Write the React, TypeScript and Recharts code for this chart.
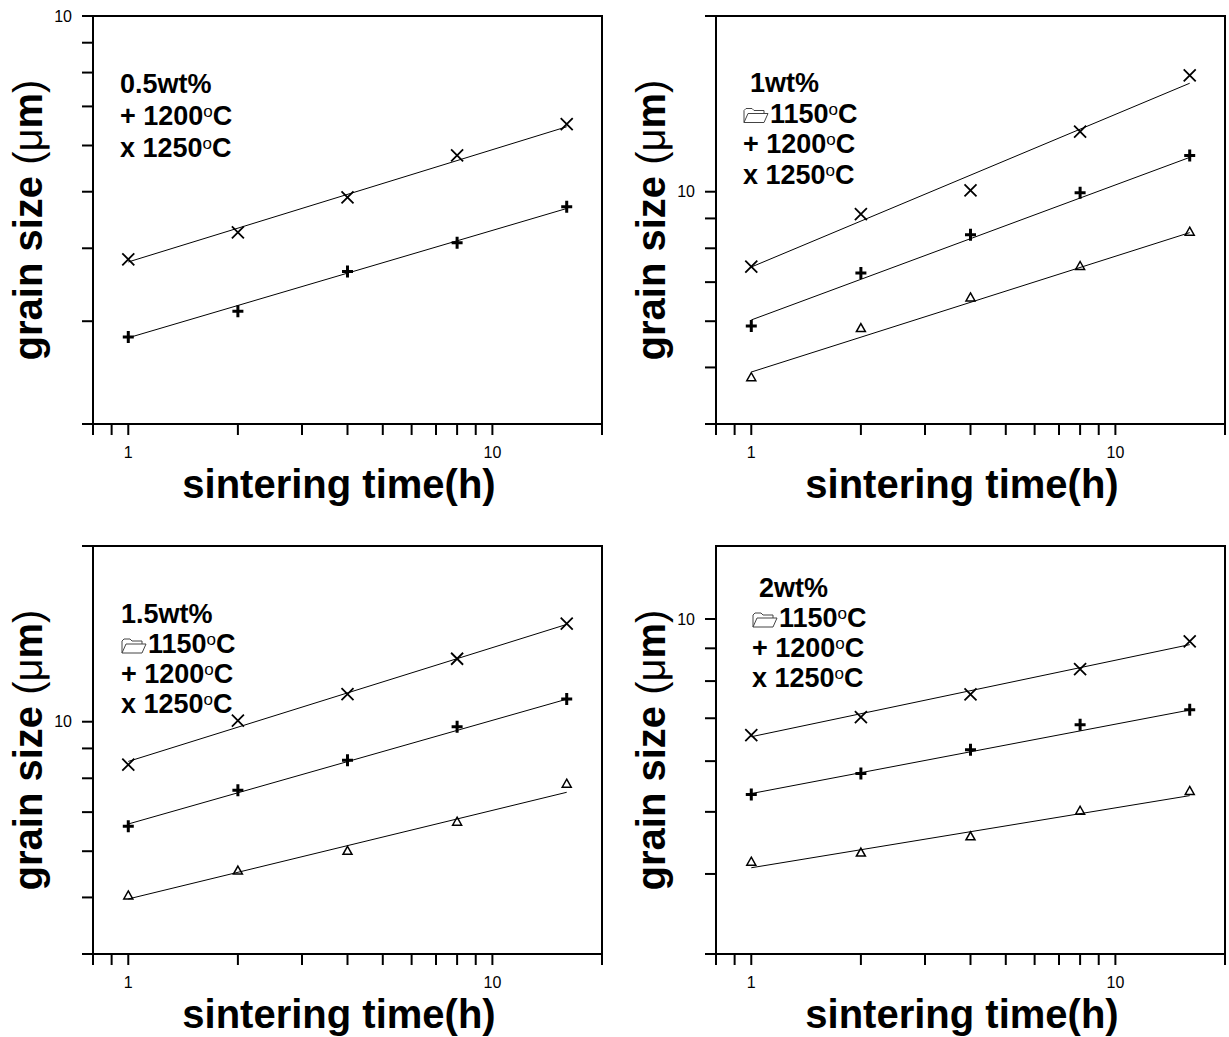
import React from 'react';
import { ScatterChart, Scatter, XAxis, YAxis, ReferenceArea } from 'recharts';

// sintering times (h) and the two ends of each fitted line
const times = [1, 2, 4, 8, 16];
const fitTimes = [1, 16];
const xTicks = [0.8, 0.9, 1, 2, 3, 4, 5, 6, 7, 8, 9, 10, 20];

// 0.5 wt%
const wt05_1200 = [2.82, 3.12, 3.65, 4.09, 4.71];
const wt05_1250 = [3.83, 4.26, 4.89, 5.77, 6.53];
const wt05_fit1200 = [2.81, 4.68];
const wt05_fit1250 = [3.79, 6.46];

// 1 wt%
const wt10_1150 = [4.81, 5.84, 6.59, 7.46, 8.54];
const wt10_1200 = [5.89, 7.26, 8.44, 9.96, 11.54];
const wt10_1250 = [7.44, 9.15, 10.05, 12.67, 15.83];
const wt10_fit1150 = [4.91, 8.51];
const wt10_fit1200 = [6.03, 11.45];
const wt10_fit1250 = [7.43, 15.34];

// 1.5 wt%
const wt15_1150 = [5.04, 5.56, 6.01, 6.74, 7.83];
const wt15_1200 = [6.62, 7.63, 8.59, 9.8, 10.94];
const wt15_1250 = [8.44, 10.04, 11.15, 12.82, 14.73];
const wt15_fit1150 = [4.97, 7.57];
const wt15_fit1200 = [6.68, 10.93];
const wt15_fit1250 = [8.55, 14.68];

// 2 wt%
const wt20_1150 = [4.18, 4.32, 4.58, 5.02, 5.39];
const wt20_1200 = [5.32, 5.74, 6.25, 6.84, 7.22];
const wt20_1250 = [6.59, 7.03, 7.63, 8.35, 9.23];
const wt20_fit1150 = [4.09, 5.3];
const wt20_fit1200 = [5.34, 7.21];
const wt20_fit1250 = [6.55, 9.12];

const yTicksA = [2, 3, 4, 5, 6, 7, 8, 9, 10];
const yTicksB = [4, 5, 6, 7, 8, 9, 10, 20];
const yTicksC = [3, 4, 5, 6, 7, 8, 9, 10];

const font = '"Liberation Sans", Arial, Helvetica, sans-serif';

const toPts = (xs: number[], ys: number[]) => xs.map((x, i) => ({ x, y: ys[i] }));

const Cross = ({ cx, cy }: any) => (
  <path
    d={`M${cx - 6},${cy - 6}L${cx + 6},${cy + 6}M${cx + 6},${cy - 6}L${cx - 6},${cy + 6}`}
    stroke="#000"
    strokeWidth={1.8}
    fill="none"
  />
);

const Plus = ({ cx, cy }: any) => (
  <path d={`M${cx - 5.5},${cy}H${cx + 5.5}M${cx},${cy - 6}V${cy + 6}`} stroke="#000" strokeWidth={3} fill="none" />
);

const Tri = ({ cx, cy }: any) => (
  <path
    d={`M${cx},${cy - 4.5}L${cx + 4.5},${cy + 3.5}L${cx - 4.5},${cy + 3.5}Z`}
    stroke="#000"
    strokeWidth={1.5}
    fill="none"
  />
);

const NoDot = () => <g />;

type Series = { values: number[]; fit: number[]; shape: any };

type PanelProps = {
  left: number;
  top: number;
  width: number;
  height: number;
  marginRight: number;
  marginBottom: number;
  yDomain: [number, number];
  yTicks: number[];
  series: Series[];
};

const axisLine = { stroke: '#000', strokeWidth: 2 };
const tickStyle = { fill: '#000', fontSize: 16, fontFamily: font };

const Panel = ({ left, top, width, height, marginRight, marginBottom, yDomain, yTicks, series }: PanelProps) => (
  <div style={{ position: 'absolute', left, top, width, height }}>
    <ScatterChart width={width} height={height} margin={{ top: 16, right: marginRight, bottom: marginBottom, left: 0 }}>
      <XAxis
        dataKey="x"
        type="number"
        scale="log"
        domain={[0.8, 20]}
        allowDataOverflow
        ticks={xTicks}
        interval={0}
        height={60}
        tickSize={11}
        tickMargin={12}
        axisLine={axisLine}
        tickLine={axisLine}
        tick={tickStyle}
        tickFormatter={(v: number) => (v === 1 || v === 10 ? String(v) : '')}
      />
      <YAxis
        dataKey="y"
        type="number"
        scale="log"
        domain={yDomain}
        allowDataOverflow
        ticks={yTicks}
        interval={0}
        width={93}
        tickSize={11}
        tickMargin={10}
        axisLine={axisLine}
        tickLine={axisLine}
        tick={tickStyle}
        tickFormatter={(v: number) => (v === 10 ? '10' : '')}
      />
      <ReferenceArea
        x1={0.8}
        x2={20}
        y1={yDomain[0]}
        y2={yDomain[1]}
        fill="none"
        fillOpacity={0}
        stroke="#000"
        strokeWidth={2}
        ifOverflow="visible"
      />
      {series.map((s, i) => (
        <Scatter
          key={`fit${i}`}
          data={toPts(fitTimes, s.fit)}
          line={{ stroke: '#000', strokeWidth: 1 }}
          shape={NoDot}
          isAnimationActive={false}
        />
      ))}
      {series.map((s, i) => (
        <Scatter key={`pts${i}`} data={toPts(times, s.values)} shape={s.shape} isAnimationActive={false} />
      ))}
    </ScatterChart>
  </div>
);

const Folder = ({ x, y }: { x: number; y: number }) => (
  <path
    transform={`translate(${x},${y})`}
    d="M1,15 L1,3 L3,1 L9,1 L11,3 L21,3 L21,6 M1,15 L5,6 L25,6 L21,15 Z"
    stroke="#444"
    strokeWidth={1}
    fill="none"
  />
);

const Temp = ({ x, y, label }: { x: number; y: number; label: string }) => (
  <text x={x} y={y} fontSize={27} fontWeight="bold" fontFamily={font} fill="#000">
    {label}
    <tspan fontSize={17} fontWeight="normal" dy={-8}>o</tspan>
    <tspan dy={8}>C</tspan>
  </text>
);

const Legend = ({ x, y, title, titleDx, gap, folder }: any) => {
  let row = 0;
  return (
    <g>
      <text x={x + titleDx} y={y} fontSize={27} fontWeight="bold" fontFamily={font} fill="#000">
        {title}
      </text>
      {folder && (
        <>
          <Folder x={x} y={y + gap * ++row - 15} />
          <Temp x={x + 27} y={y + gap * row} label="1150" />
        </>
      )}
      <Temp x={x} y={y + gap * ++row} label="+ 1200" />
      <Temp x={x} y={y + gap * ++row} label="x 1250" />
    </g>
  );
};

const Titles = ({ plotLeft, plotTop }: { plotLeft: number; plotTop: number }) => (
  <g fontFamily={font} fill="#000">
    <text x={plotLeft + 254 - 8} y={plotTop + 408 + 74} textAnchor="middle" fontSize={40} fontWeight="bold">
      sintering time(h)
    </text>
    <text
      transform={`translate(${plotLeft - 51},${plotTop + 204}) rotate(-90)`}
      textAnchor="middle"
      fontSize={40}
      fontWeight="bold"
    >
      grain size <tspan fontWeight="normal">(μ</tspan>m<tspan fontWeight="normal">)</tspan>
    </text>
  </g>
);

const App: React.FC = () => {
  return (
    <div style={{ position: 'absolute', left: 0, top: 0, width: 1229, height: 1037, background: '#fff', overflow: 'hidden' }}>
      <Panel
        left={0}
        top={0}
        width={620}
        height={520}
        marginRight={18}
        marginBottom={36}
        yDomain={[2, 10]}
        yTicks={yTicksA}
        series={[
          { values: wt05_1200, fit: wt05_fit1200, shape: Plus },
          { values: wt05_1250, fit: wt05_fit1250, shape: Cross },
        ]}
      />
      <Panel
        left={623}
        top={0}
        width={606}
        height={520}
        marginRight={4}
        marginBottom={36}
        yDomain={[4, 20]}
        yTicks={yTicksB}
        series={[
          { values: wt10_1150, fit: wt10_fit1150, shape: Tri },
          { values: wt10_1200, fit: wt10_fit1200, shape: Plus },
          { values: wt10_1250, fit: wt10_fit1250, shape: Cross },
        ]}
      />
      <Panel
        left={0}
        top={530}
        width={620}
        height={507}
        marginRight={18}
        marginBottom={23}
        yDomain={[4, 20]}
        yTicks={yTicksB}
        series={[
          { values: wt15_1150, fit: wt15_fit1150, shape: Tri },
          { values: wt15_1200, fit: wt15_fit1200, shape: Plus },
          { values: wt15_1250, fit: wt15_fit1250, shape: Cross },
        ]}
      />
      <Panel
        left={623}
        top={530}
        width={606}
        height={507}
        marginRight={4}
        marginBottom={23}
        yDomain={[3, 13]}
        yTicks={yTicksC}
        series={[
          { values: wt20_1150, fit: wt20_fit1150, shape: Tri },
          { values: wt20_1200, fit: wt20_fit1200, shape: Plus },
          { values: wt20_1250, fit: wt20_fit1250, shape: Cross },
        ]}
      />
      <svg width={1229} height={1037} style={{ position: 'absolute', left: 0, top: 0, pointerEvents: 'none' }}>
        <Titles plotLeft={93} plotTop={16} />
        <Titles plotLeft={716} plotTop={16} />
        <Titles plotLeft={93} plotTop={546} />
        <Titles plotLeft={716} plotTop={546} />
        <Legend x={120} y={93} title="0.5wt%" titleDx={0} gap={32} folder={false} />
        <Legend x={743} y={92} title="1wt%" titleDx={7} gap={30.5} folder />
        <Legend x={121} y={623} title="1.5wt%" titleDx={0} gap={30} folder />
        <Legend x={752} y={597} title="2wt%" titleDx={7} gap={30} folder />
      </svg>
    </div>
  );
};

export default App;
